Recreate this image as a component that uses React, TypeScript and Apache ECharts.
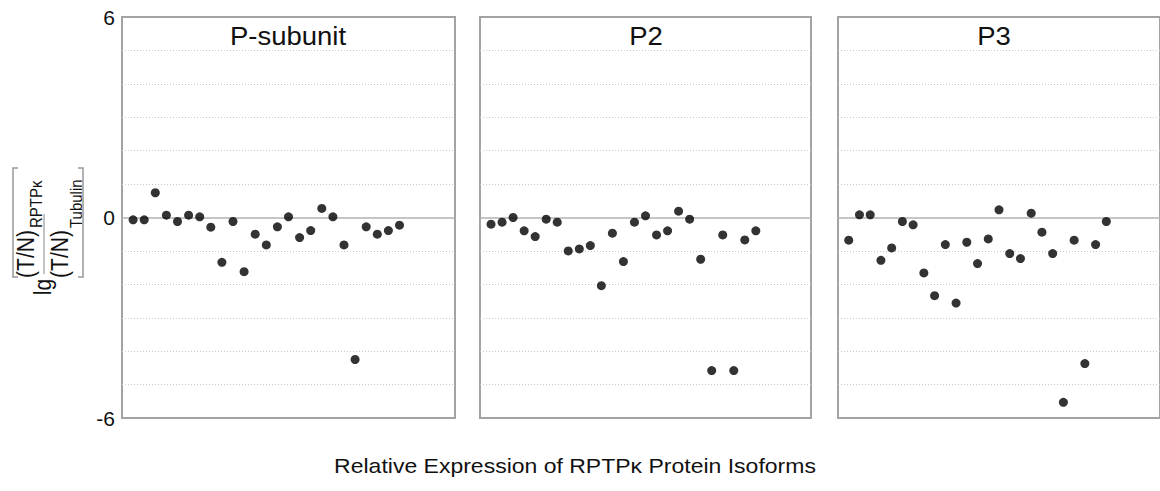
import React, { useEffect, useRef } from "react";
import * as echarts from "echarts";

const panelTitles = ["P-subunit", "P2", "P3"];
const pSubunit = [-0.07, -0.07, 0.74, 0.07, -0.12, 0.07, 0.02, -0.29, -1.34, -0.12, -1.62, -0.5, -0.82, -0.28, 0.02, -0.6, -0.39, 0.27, 0.02, -0.82, -4.25, -0.28, -0.5, -0.39, -0.23];
const p2 = [-0.2, -0.14, 0.0, -0.4, -0.57, -0.05, -0.14, -1.0, -0.94, -0.84, -2.04, -0.47, -1.32, -0.14, 0.05, -0.52, -0.4, 0.19, -0.05, -1.25, -4.58, -0.52, -4.58, -0.67, -0.4];
const p3 = [-0.68, 0.08, 0.08, -1.28, -0.91, -0.12, -0.22, -1.66, -2.34, -0.81, -2.56, -0.74, -1.38, -0.64, 0.23, -1.08, -1.23, 0.13, -0.44, -1.08, -5.53, -0.68, -4.37, -0.81, -0.12];
const panelValues = [pSubunit, p2, p3];
const yTickLabels = [-6, 0, 6];
const xTitle = "Relative Expression of RPTP\u03BA Protein Isoforms";

const FONT = "'Liberation Sans', Arial, sans-serif";

export default function App() {
  const ref = useRef<HTMLDivElement>(null);
  useEffect(() => {
    document.body.style.margin = "0";
    const chart = echarts.init(ref.current!, null, { renderer: "svg" });
    const lefts = [122, 480, 838];
    const widths = [333, 331, 333];
    const titleX = [288, 646, 994];
    const splitColors = Array.from({ length: 13 }, (_, i) => (i === 0 || i === 12 || i === 6 ? "rgba(0,0,0,0)" : "#c8c8c8"));
    const grids = lefts.map((l, i) => ({
      left: l,
      top: 17,
      width: widths[i],
      height: 401,
      show: true,
      borderColor: "#a3a3a3",
      borderWidth: 2,
      backgroundColor: "#fff",
    }));
    const xAxes = lefts.map((_, i) => ({
      type: "value",
      gridIndex: i,
      min: 0,
      max: 30,
      axisLine: { show: true, onZero: true, lineStyle: { color: "#b3b3b3", width: 1.5 } },
      axisTick: { show: false },
      axisLabel: { show: false },
      splitLine: { show: false },
    }));
    const yAxes = lefts.map((_, i) => ({
      type: "value",
      gridIndex: i,
      min: -6,
      max: 6,
      interval: 1,
      axisLine: { show: false },
      axisTick: { show: false },
      axisLabel: {
        show: i === 0,
        fontSize: 21,
        fontFamily: FONT,
        color: "#111",
        margin: 7,
        formatter: (v: number) => (yTickLabels.includes(v) ? String(v) : ""),
      },
      splitLine: { show: true, lineStyle: { type: [1, 2], color: splitColors, width: 1 } },
    }));
    const series = panelValues.map((vals, i) => ({
      type: "scatter",
      xAxisIndex: i,
      yAxisIndex: i,
      symbolSize: 9,
      itemStyle: { color: "#000" },
      data: vals.map((v, k) => [k + 1, v]),
    }));
    const titleGraphics = panelTitles.map((t, i) => ({
      type: "text",
      x: titleX[i],
      y: 36,
      scaleX: 1.1,
      style: { text: t, fontSize: 25, fontFamily: FONT, fill: "#111", textAlign: "center", textVerticalAlign: "middle" },
    }));
    const txt = (text: string, u: number, v: number, size: number, align = "center") => ({
      type: "text",
      x: u,
      y: v,
      scaleY: 1.1,
      style: { text, fontSize: size, fontFamily: FONT, fill: "#111", textAlign: align, textVerticalAlign: "middle" },
    });
    const ylabel = {
      type: "group",
      x: 0,
      y: 300,
      rotation: Math.PI / 2,
      children: [
        txt("lg", 13, 43.5, 21),
        txt("(T/N)", 46, 26, 21),
        txt("RPTP\u03BA", 72, 36, 15, "left"),
        txt("(T/N)", 46, 60, 21),
        txt("Tubulin", 72, 76, 15, "left"),
        { type: "line", shape: { x1: 26, y1: 44, x2: 86, y2: 44 }, style: { stroke: "#888", lineWidth: 1 } },
        { type: "polyline", shape: { points: [[23, 18], [23, 13], [132, 13], [132, 18]] }, style: { stroke: "#999", lineWidth: 1.5, fill: null } },
        { type: "polyline", shape: { points: [[23, 78], [23, 83], [132, 83], [132, 78]] }, style: { stroke: "#999", lineWidth: 1.5, fill: null } },
      ],
    };
    const bottom = {
      type: "text",
      x: 575,
      y: 466,
      scaleX: 1.15,
      style: { text: xTitle, fontSize: 20, fontFamily: FONT, fill: "#111", textAlign: "center", textVerticalAlign: "middle" },
    };
    chart.setOption({
      animation: false,
      backgroundColor: "#fff",
      grid: grids,
      xAxis: xAxes,
      yAxis: yAxes,
      series,
      graphic: [...titleGraphics, ylabel, bottom],
    });
    return () => chart.dispose();
  }, []);
  return <div ref={ref} style={{ width: 1160, height: 491 }} />;
}
